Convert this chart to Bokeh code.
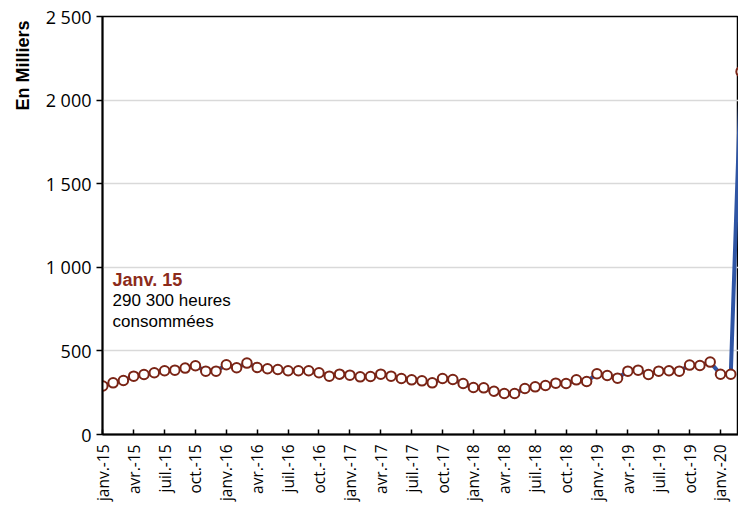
from bokeh.plotting import figure
from bokeh.models import Range1d, FixedTicker, Label, Title
from bokeh.embed import file_html
from bokeh.resources import INLINE

# Monthly hours consumed (thousands), janv. 2015 -> mars 2020
values = [290, 309, 323, 349, 359, 369, 381, 385, 397, 411, 379, 379,
          417, 399, 427, 401, 393, 389, 381, 381, 381, 369, 349, 361,
          355, 345, 347, 361, 349, 335, 327, 321, 309, 335, 329, 305,
          281, 279, 259, 245, 245, 275, 285, 293, 307, 305, 327, 317,
          363, 353, 337, 379, 385, 359, 379, 381, 379, 415, 413, 433,
          360, 360, 2170]

tick_labels = ["janv.-15", "avr.-15", "juil.-15", "oct.-15",
               "janv.-16", "avr.-16", "juil.-16", "oct.-16",
               "janv.-17", "avr.-17", "juil.-17", "oct.-17",
               "janv.-18", "avr.-18", "juil.-18", "oct.-18",
               "janv.-19", "avr.-19", "juil.-19", "oct.-19",
               "janv.-20"]
tick_step = 3

y_ticks = [0, 500, 1000, 1500, 2000, 2500]
y_tick_labels = ["0", "500", "1 000", "1 500", "2 000", "2 500"]

y_title = "En Milliers"
note_title = "Janv. 15"
note_lines = ["290 300 heures", "consommées"]

x = list(range(len(values)))
x_ticks = [i * tick_step for i in range(len(tick_labels))]

p = figure(width=738, height=504, output_backend="svg", toolbar_location=None,
           x_range=Range1d(-0.03, 61.75), y_range=Range1d(0, 2500),
           min_border_left=101, min_border_right=0, min_border_top=16,
           min_border_bottom=68,
           background_fill_color="white", border_fill_color="white",
           outline_line_color="black", outline_line_width=1.5)

p.line(x, values, line_color="#2F55A4", line_width=4)
p.scatter(x, values, marker="circle", size=9.5, fill_color="white",
          line_color="#7A2415", line_width=2)

# axes
p.xgrid.visible = False
p.ygrid.grid_line_color = "#D9D9D9"
p.ygrid.grid_line_width = 1.5

p.xaxis.ticker = FixedTicker(ticks=x_ticks)
p.xaxis.major_label_overrides = {t: lab for t, lab in zip(x_ticks, tick_labels)}
p.xaxis.major_label_orientation = 1.5707963267948966
p.xaxis.major_label_text_font = "Open Sans"
p.xaxis.major_label_text_font_size = "15.5px"
p.xaxis.major_label_text_color = "black"
p.xaxis.major_label_standoff = 10
p.xaxis.major_tick_in = 5
p.xaxis.major_tick_out = 0
p.xaxis.minor_tick_line_color = None

p.yaxis.ticker = FixedTicker(ticks=y_ticks)
p.yaxis.major_label_overrides = {t: lab for t, lab in zip(y_ticks, y_tick_labels)}
p.yaxis.major_label_text_font = "Open Sans"
p.yaxis.major_label_text_font_size = "18px"
p.yaxis.major_label_text_color = "black"
p.yaxis.major_label_standoff = 5
p.yaxis.major_tick_in = 0
p.yaxis.major_tick_out = 6
p.yaxis.minor_tick_line_color = None

for ax in (p.xaxis, p.yaxis):
    ax.axis_line_color = "black"
    ax.axis_line_width = 2
    ax.major_tick_line_color = "black"
    ax.major_tick_line_width = 1.5

p.add_layout(Title(text=y_title, align="right", offset=4, standoff=20,
                   text_font="Liberation Sans", text_font_size="18px",
                   text_font_style="bold", text_color="black"), "left")

# annotation
p.add_layout(Label(x=0.95, y=927, text=note_title, text_font="Liberation Sans",
                   text_font_size="18px", text_font_style="bold",
                   text_color="#8C2B1B", text_baseline="alphabetic"))
for i, line in enumerate(note_lines):
    p.add_layout(Label(x=0.95, y=801 - i * 125, text=line,
                       text_font="Liberation Sans", text_font_size="17px",
                       text_color="black", text_baseline="alphabetic"))

open("out.html", "w").write(file_html(p, INLINE))
